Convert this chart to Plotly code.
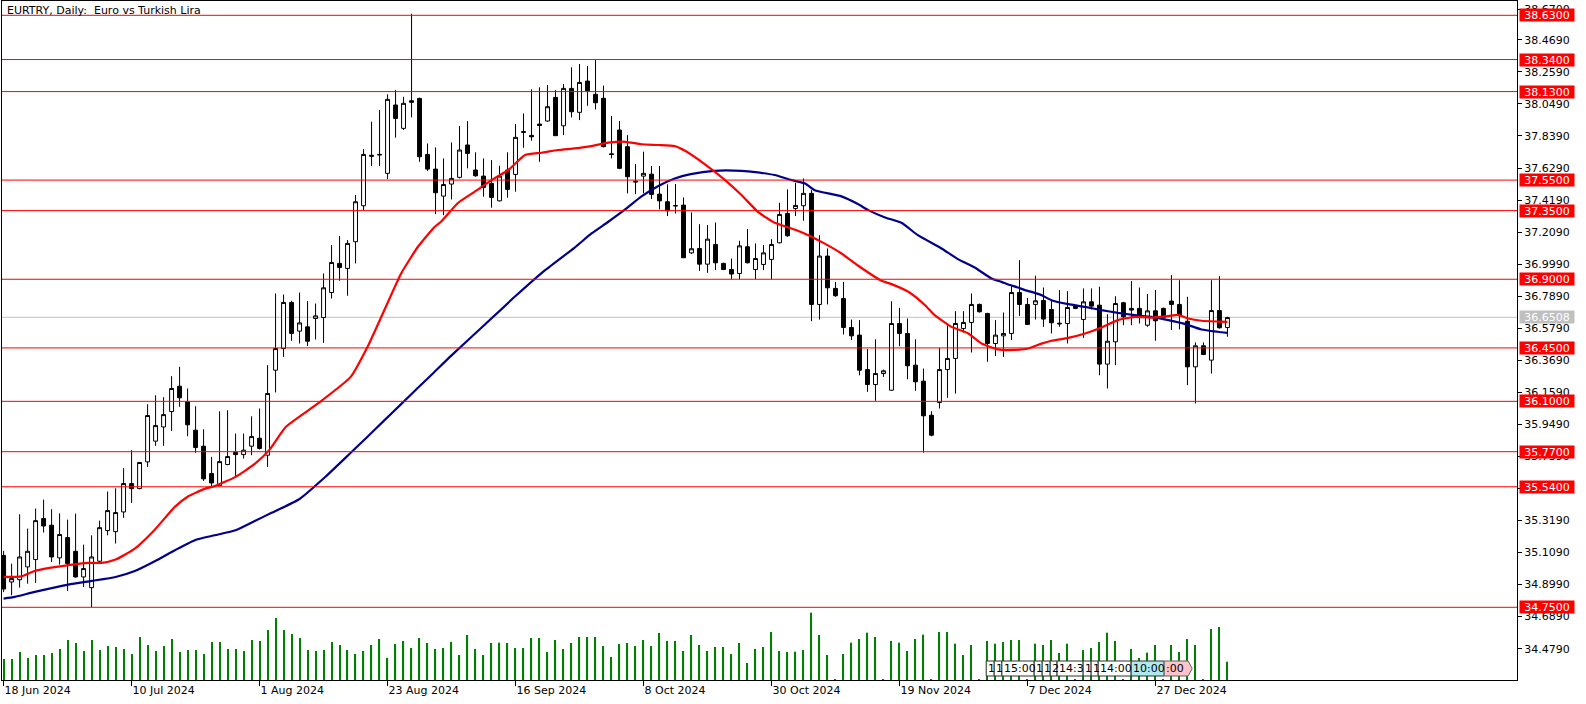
import plotly.graph_objects as go

# ---------------- data ----------------
opens = [35.09, 34.916, 34.931, 35.015, 35.063, 35.332, 35.288, 35.074, 35.207, 35.117,
         34.949, 34.879, 35.052, 35.253, 35.246, 35.375, 35.561, 35.528, 35.703, 35.839,
         35.932, 36.033, 36.199, 36.097, 35.911, 35.806, 35.627, 35.548, 35.686, 35.766,
         35.751, 35.806, 35.858, 35.747, 36.304, 36.446, 36.748, 36.560, 36.588, 36.643,
         36.649, 36.813, 37.004, 36.971, 37.146, 37.382, 37.705, 37.714, 37.594, 38.042,
         37.889, 38.07, 38.085, 37.718, 37.622, 37.445, 37.524, 37.568, 37.780, 37.616,
         37.576, 37.528, 37.414, 37.616, 37.587, 37.862, 37.843, 37.917, 37.937, 38.092,
         37.906, 38.151, 37.994, 38.199, 38.112, 38.086, 37.722, 37.878, 37.769, 37.543,
         37.576, 37.589, 37.458, 37.408, 37.383, 37.386, 37.073, 37.102, 36.999, 37.128,
         37.004, 36.964, 36.938, 37.113, 36.964, 36.997, 37.030, 37.139, 37.331, 37.364,
         37.382, 37.463, 36.735, 37.052, 36.840, 36.774, 36.584, 36.534, 36.308, 36.210,
         36.282, 36.173, 36.610, 36.545, 36.337, 36.232, 36.009, 36.092, 36.308, 36.381,
         36.577, 36.617, 36.735, 36.676, 36.479, 36.529, 36.545, 36.813, 36.735, 36.735,
         36.761, 36.702, 36.612, 36.610, 36.726, 36.636, 36.752, 36.730, 36.344, 36.490,
         36.746, 36.709, 36.709, 36.599, 36.693, 36.709, 36.757, 36.735, 36.625, 36.326,
         36.464, 36.370, 36.695, 36.584]
highs = [35.12, 35.036, 35.360, 35.266, 35.397, 35.456, 35.393, 35.366, 35.325, 35.364,
         35.161, 35.222, 35.318, 35.509, 35.530, 35.662, 35.780, 35.703, 36.081, 36.140,
         36.127, 36.265, 36.326, 36.184, 36.068, 35.917, 35.736, 36.035, 36.042, 35.889,
         35.889, 36.002, 36.053, 36.337, 36.807, 36.800, 36.759, 36.813, 36.757, 36.741,
         36.938, 37.124, 37.183, 37.157, 37.452, 37.753, 37.933, 38.009, 38.112, 38.140,
         38.096, 38.64, 38.09, 37.790, 37.764, 37.692, 37.797, 37.904, 37.937, 37.732,
         37.692, 37.681, 37.644, 37.732, 37.917, 37.987, 38.145, 38.158, 38.173, 38.140,
         38.180, 38.289, 38.311, 38.298, 38.337, 38.169, 37.970, 37.937, 37.845, 37.655,
         37.736, 37.642, 37.642, 37.522, 37.524, 37.436, 37.338, 37.261, 37.255, 37.272,
         37.008, 37.036, 37.152, 37.229, 37.135, 37.124, 37.163, 37.401, 37.489, 37.532,
         37.561, 37.484, 37.189, 37.102, 36.883, 36.883, 36.636, 36.632, 36.442, 36.507,
         36.308, 36.756, 36.713, 36.643, 36.507, 36.315, 36.035, 36.450, 36.599, 36.691,
         36.691, 36.807, 36.741, 36.680, 36.632, 36.682, 36.855, 37.025, 36.778, 36.923,
         36.846, 36.763, 36.829, 36.822, 36.730, 36.840, 36.840, 36.851, 36.671, 36.789,
         36.752, 36.888, 36.846, 36.803, 36.829, 36.715, 36.927, 36.894, 36.785, 36.486,
         36.486, 36.894, 36.920, 36.654]
lows = [34.85, 34.829, 34.879, 34.905, 34.910, 35.240, 35.047, 35.030, 34.857, 34.945,
        34.883, 34.752, 35.047, 35.222, 35.168, 35.336, 35.434, 35.524, 35.670, 35.808,
        35.808, 35.906, 36.064, 35.871, 35.762, 35.578, 35.539, 35.544, 35.681, 35.605,
        35.725, 35.747, 35.784, 35.670, 36.158, 36.391, 36.496, 36.479, 36.462, 36.505,
        36.483, 36.774, 36.890, 36.792, 37.004, 37.353, 37.642, 37.642, 37.557, 37.828,
        37.878, 37.961, 37.670, 37.609, 37.327, 37.320, 37.423, 37.561, 37.627, 37.572,
        37.441, 37.369, 37.410, 37.434, 37.474, 37.762, 37.808, 37.670, 37.933, 37.841,
        37.845, 37.961, 37.943, 38.037, 38.013, 37.764, 37.692, 37.622, 37.463, 37.458,
        37.463, 37.426, 37.358, 37.314, 37.331, 37.040, 37.065, 36.955, 36.942, 36.960,
        36.960, 36.899, 36.899, 37.004, 36.901, 36.960, 36.899, 37.135, 37.178, 37.314,
        37.283, 36.625, 36.636, 36.735, 36.785, 36.538, 36.501, 36.271, 36.162, 36.103,
        36.260, 36.169, 36.461, 36.245, 36.169, 35.764, 35.871, 36.053, 36.123, 36.151,
        36.551, 36.420, 36.682, 36.359, 36.398, 36.391, 36.501, 36.660, 36.603, 36.636,
        36.588, 36.545, 36.588, 36.479, 36.704, 36.516, 36.702, 36.271, 36.184, 36.337,
        36.599, 36.599, 36.610, 36.588, 36.497, 36.632, 36.567, 36.571, 36.206, 36.086,
        36.403, 36.282, 36.577, 36.523]
closes = [34.87, 34.938, 35.080, 35.117, 35.318, 35.283, 35.080, 35.227, 35.037, 34.949,
          35.004, 35.080, 35.272, 35.384, 35.371, 35.561, 35.528, 35.699, 36.007, 35.941,
          36.013, 36.184, 36.123, 35.946, 35.797, 35.592, 35.565, 35.705, 35.738, 35.751,
          35.780, 35.869, 35.791, 36.151, 36.446, 36.748, 36.545, 36.614, 36.494, 36.660,
          36.844, 37.010, 36.977, 37.135, 37.408, 37.718, 37.712, 37.718, 38.079, 37.954,
          38.053, 38.06, 37.703, 37.622, 37.467, 37.521, 37.561, 37.747, 37.725, 37.578,
          37.502, 37.436, 37.576, 37.489, 37.830, 37.868, 37.834, 37.908, 38.031, 37.841,
          38.151, 37.998, 38.190, 38.136, 38.057, 37.769, 37.718, 37.627, 37.572, 37.538,
          37.594, 37.456, 37.414, 37.349, 37.381, 37.041, 37.100, 36.999, 37.163, 37.008,
          36.964, 36.934, 37.119, 37.008, 37.036, 37.073, 37.128, 37.325, 37.185, 37.384,
          37.463, 36.735, 37.052, 36.844, 36.792, 36.584, 36.529, 36.304, 36.210, 36.282,
          36.300, 36.610, 36.545, 36.333, 36.228, 36.005, 35.878, 36.308, 36.381, 36.610,
          36.617, 36.735, 36.687, 36.479, 36.534, 36.545, 36.813, 36.735, 36.604, 36.759,
          36.639, 36.615, 36.608, 36.715, 36.709, 36.752, 36.724, 36.344, 36.494, 36.741,
          36.654, 36.698, 36.654, 36.693, 36.628, 36.649, 36.735, 36.665, 36.326, 36.464,
          36.407, 36.695, 36.582, 36.649]
volumes = [63, 63, 84, 66, 75, 75, 81, 93, 120, 111, 87, 120, 90, 102, 99, 93, 78, 129, 105, 87,
           102, 123, 84, 90, 90, 78, 114, 114, 93, 93, 87, 120, 117, 150, 186, 150, 138, 126, 90, 87,
           90, 114, 105, 90, 78, 87, 105, 123, 66, 108, 117, 96, 126, 111, 93, 96, 114, 75, 135, 93,
           75, 111, 112, 111, 96, 96, 126, 126, 84, 120, 93, 111, 129, 129, 129, 102, 69, 108, 111, 102,
           120, 102, 141, 117, 117, 87, 135, 105, 87, 99, 99, 78, 111, 51, 93, 99, 144, 87, 84, 85,
           90, 202, 135, 75, 3, 78, 112, 123, 142, 129, 3, 117, 112, 87, 123, 136, 3, 144, 144, 109,
           75, 105, 3, 117, 109, 114, 120, 120, 3, 109, 105, 120, 81, 109, 3, 90, 96, 114, 142, 117,
           3, 93, 66, 82, 105, 3, 105, 84, 123, 105, 3, 153, 159, 55]
bars = list(range(len(closes)))

ma_fast_x = [0, 2.25, 3.9, 8.1, 10.6, 12.25, 14, 16.4, 18.9, 21.4, 23.1, 25.2, 26.4, 29, 31.4,
             33.2, 35.3, 39.3, 43.4, 45.5, 47.6, 49.7, 51.8, 53.9, 54.75, 56.8, 58.9, 61, 63.1,
             65.2, 67.25, 69.3, 71.4, 73.5, 75.6, 77.7, 79.75, 81.8, 83.9, 85.2, 88.1, 90.2,
             92.25, 94.3, 96.4, 98.5, 100.6, 102.6, 104.75, 106.8, 109.75, 111, 113.1, 115.2,
             116.4, 118.5, 120.6, 122.25, 124.3, 126.4, 128.1, 129.75, 131, 133.1, 135.2,
             137.25, 139.3, 141.4, 143.5, 145.6, 146.8, 148.1, 149.75, 151.8, 153]
ma_fast = [34.949, 34.953, 34.988, 35.026, 35.041, 35.041, 35.063, 35.135, 35.259, 35.408,
           35.478, 35.528, 35.544, 35.605, 35.69, 35.78, 35.933, 36.086, 36.260, 36.457,
           36.698, 36.938, 37.113, 37.244, 37.28, 37.40, 37.474, 37.550, 37.616, 37.714,
           37.729, 37.747, 37.758, 37.773, 37.795, 37.801, 37.785, 37.780, 37.773, 37.742,
           37.637, 37.550, 37.452, 37.342, 37.270, 37.233, 37.189, 37.135, 37.069, 36.99,
           36.890, 36.868, 36.818, 36.730, 36.665, 36.588, 36.545, 36.479, 36.440, 36.437,
           36.446, 36.478, 36.497, 36.516, 36.545, 36.584, 36.632, 36.654, 36.649, 36.658,
           36.667, 36.643, 36.628, 36.623, 36.621]
ma_slow_x = [0, 1.4, 3.9, 8.1, 11, 14, 16.4, 18.9, 21.4, 23.9, 26.4, 29, 31.4, 33.5, 37.0,
             40.2, 43.3, 45.4, 47.5, 49.6, 51.7, 53.8, 55.9, 60.0, 64.0, 67.7, 71.4, 73.5,
             75.6, 77.7, 79.75, 81.8, 83.9, 85.9, 88.8, 92.25, 94.3, 96.4, 98.5, 100.2, 101.4,
             104.75, 106.8, 108.1, 110.2, 112.25, 114.3, 117.25, 119.3, 121.4, 123.5, 124.75,
             125.6, 126.8, 127.7, 128.9, 129.75, 131, 133.1, 135.2, 137.25, 139.3, 141.4,
             143.5, 145.6, 147.75, 149.75, 151.8, 153]
ma_slow = [34.807, 34.818, 34.851, 34.899, 34.923, 34.949, 34.988, 35.052, 35.124, 35.190,
           35.222, 35.255, 35.316, 35.369, 35.46, 35.604, 35.758, 35.863, 35.970, 36.077,
           36.184, 36.289, 36.396, 36.595, 36.790, 36.960, 37.108, 37.200, 37.277, 37.358,
           37.443, 37.510, 37.561, 37.589, 37.611, 37.611, 37.600, 37.583, 37.550, 37.528,
           37.484, 37.443, 37.393, 37.353, 37.305, 37.270, 37.189, 37.102, 37.032, 36.977,
           36.905, 36.883, 36.866, 36.846, 36.829, 36.811, 36.796, 36.763, 36.737, 36.719,
           36.698, 36.680, 36.665, 36.654, 36.632, 36.606, 36.571, 36.556, 36.549]

level_prices = [38.63, 38.34, 38.13, 37.55, 37.35, 36.90, 36.45, 36.10, 35.77, 35.54, 34.75]
current_price = 36.6508
price_tick_labels = ["38.6700", "38.4690", "38.2590", "38.0490", "37.8390", "37.6290",
                     "37.4190", "37.2090", "36.9990", "36.7890", "36.5790", "36.3690",
                     "36.1590", "35.9490", "35.7390", "35.5290", "35.3190", "35.1090",
                     "34.8990", "34.6890", "34.4790"]
date_tick_bars = [0, 16, 32, 48, 64, 80, 96, 112, 128, 144]
date_tick_labels = ["18 Jun 2024", "10 Jul 2024", "1 Aug 2024", "23 Aug 2024", "16 Sep 2024",
                    "8 Oct 2024", "30 Oct 2024", "19 Nov 2024", "7 Dec 2024", "27 Dec 2024"]
event_labels = ["1", "1", "15:00", "1", "1", "2", "14:3", "1", "1", "14:00", "10:00", ":00"]
event_start = [122.84, 123.84, 124.8, 128.84, 129.84, 130.84, 131.7, 134.96, 135.96, 136.84,
               140.96, 145.09]
event_end = [123.84, 124.8, 128.84, 129.84, 130.84, 131.7, 134.96, 135.96, 136.84, 140.96,
             145.09, 148.59]
event_fill = ["white"] * 10 + ["#B0E8F0", "#FFC4CC"]

title_text = "EURTRY, Daily:\u00a0\u00a0Euro vs Turkish Lira"

# ---------------- layout constants ----------------
W, H = 1586, 704
ML, MR, MT, MB = 2, 69, 1, 24
PLOT_H = H - MT - MB
Y_RANGE = [34.2736, 38.7237]
X_RANGE = [-0.2, 189.2]
FONT = "DejaVu Sans"

fig = go.Figure()

fig.add_trace(go.Bar(
    x=bars, y=volumes, width=0.14, marker_color="#008000", marker_line_width=0,
    yaxis="y2", hoverinfo="skip", showlegend=False))

fig.add_trace(go.Candlestick(
    x=bars, open=opens, high=highs, low=lows, close=closes,
    increasing=dict(line=dict(color="black", width=1), fillcolor="white"),
    decreasing=dict(line=dict(color="black", width=1), fillcolor="black"),
    whiskerwidth=0, hoverinfo="skip", showlegend=False))

fig.add_trace(go.Scatter(x=ma_slow_x, y=ma_slow, mode="lines",
                         line=dict(color="#00008B", width=2.2, shape="spline", smoothing=0.5),
                         hoverinfo="skip", showlegend=False))
fig.add_trace(go.Scatter(x=ma_fast_x, y=ma_fast, mode="lines",
                         line=dict(color="#FF0000", width=2.2, shape="spline", smoothing=0.5),
                         hoverinfo="skip", showlegend=False))

shapes = []
for p in level_prices:
    shapes.append(dict(type="line", xref="paper", yref="y", x0=0, x1=1, y0=p, y1=p,
                       line=dict(color="#FF0000", width=1), layer="above"))
shapes.append(dict(type="line", xref="paper", yref="y", x0=0, x1=1, y0=current_price,
                   y1=current_price, line=dict(color="#C0C0C0", width=1), layer="below"))

# event markers near the bottom
ev_y0 = (MT + PLOT_H - 676) / PLOT_H
ev_y1 = (MT + PLOT_H - 661) / PLOT_H
ev_ym = (ev_y0 + ev_y1) / 2
for lab, s, e, fc in zip(event_labels, event_start, event_end, event_fill):
    if lab == ":00":
        path = (f"M {s},{ev_y0} L {e - 0.5},{ev_y0} L {e},{ev_ym} "
                f"L {e - 0.5},{ev_y1} L {s},{ev_y1} Z")
        shapes.append(dict(type="path", xref="x", yref="paper", path=path,
                           fillcolor=fc, line=dict(color="#606060", width=1), layer="above"))
    else:
        shapes.append(dict(type="rect", xref="x", yref="paper", x0=s, x1=e, y0=ev_y0, y1=ev_y1,
                           fillcolor=fc, line=dict(color="#303030", width=1), layer="above"))

annotations = []
for lab, s, e in zip(event_labels, event_start, event_end):
    annotations.append(dict(x=s, y=ev_ym, xref="x", yref="paper", text=lab, showarrow=False,
                            xanchor="left", yanchor="middle", xshift=0,
                            font=dict(family=FONT, size=11, color="black")))

for p in level_prices:
    annotations.append(dict(x=1, y=p, xref="paper", yref="y", text=f"{p:.4f}", showarrow=False,
                            xanchor="left", yanchor="middle", xshift=2, width=54, height=12,
                            bgcolor="#FF0000", borderpad=0,
                            font=dict(family=FONT, size=11, color="white")))
annotations.append(dict(x=1, y=current_price, xref="paper", yref="y", text=f"{current_price:.4f}",
                        showarrow=False, xanchor="left", yanchor="middle", xshift=2, width=54,
                        height=12, bgcolor="#C0C0C0", borderpad=0,
                        font=dict(family=FONT, size=11, color="white")))
annotations.append(dict(x=0, y=1, xref="paper", yref="paper", text=title_text, showarrow=False,
                        xanchor="left", yanchor="top", xshift=3, yshift=-1,
                        font=dict(family=FONT, size=11, color="black")))

fig.update_layout(
    width=W, height=H, margin=dict(l=ML, r=MR, t=MT, b=MB),
    paper_bgcolor="white", plot_bgcolor="white", showlegend=False,
    font=dict(family=FONT, size=11, color="black"),
    shapes=shapes, annotations=annotations, hovermode=False,
    xaxis=dict(range=X_RANGE, showgrid=False, zeroline=False, showline=True, mirror=True,
               linecolor="black", linewidth=1, ticks="outside", ticklen=5, tickcolor="black",
               tickvals=date_tick_bars, ticktext=date_tick_labels,
               ticklabelposition="outside right", rangeslider=dict(visible=False),
               tickfont=dict(family=FONT, size=11, color="black"), fixedrange=True),
    yaxis=dict(range=Y_RANGE, side="right", showgrid=False, zeroline=False, showline=True,
               mirror=True, linecolor="black", linewidth=1, ticks="outside", ticklen=4,
               tickcolor="black", tickvals=[float(t) for t in price_tick_labels],
               ticktext=price_tick_labels, tickfont=dict(family=FONT, size=11, color="black"),
               fixedrange=True),
    yaxis2=dict(range=[0, PLOT_H * 3], overlaying="y", visible=False, fixedrange=True),
)

fig.write_html("out.html")
